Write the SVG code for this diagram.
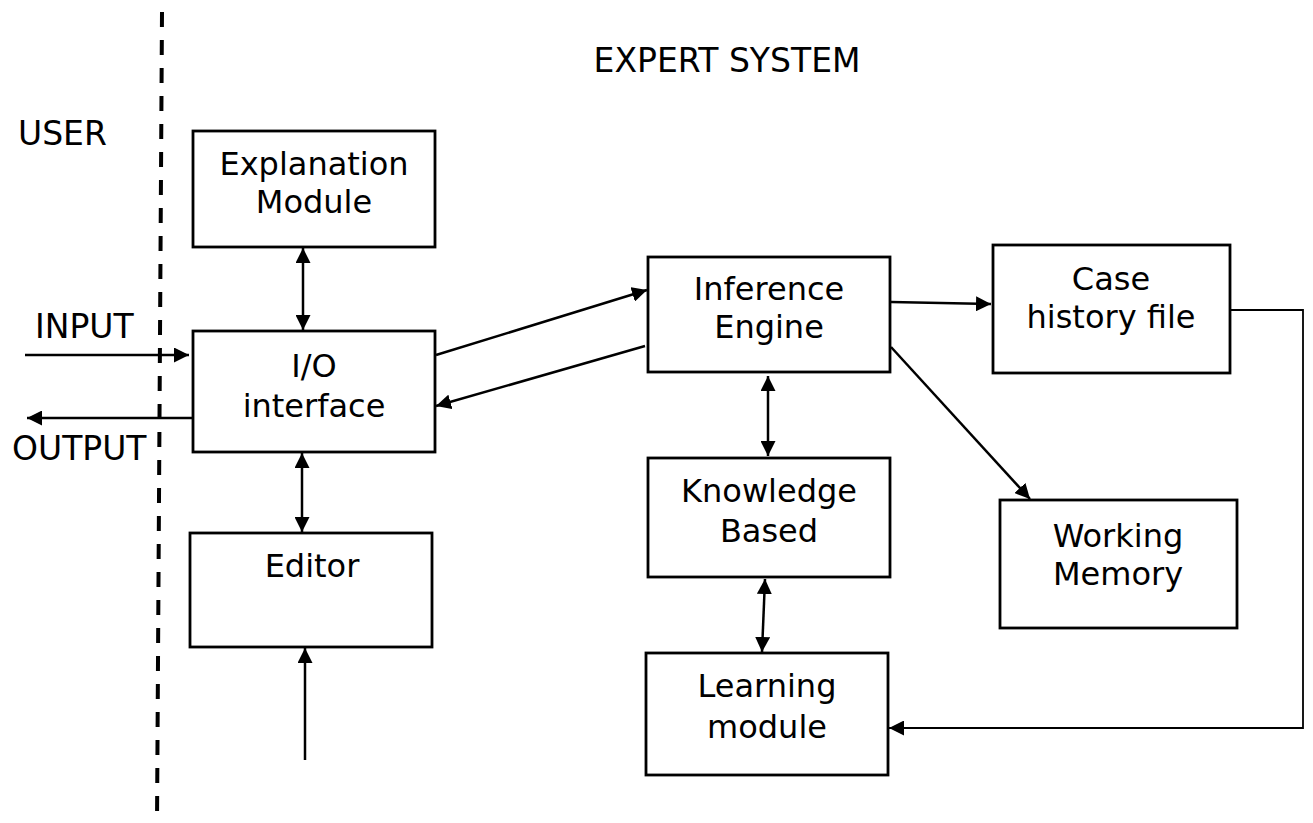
<svg xmlns="http://www.w3.org/2000/svg" width="1313" height="823" viewBox="0 0 1313 823">
<style>
text{font-family:"DejaVu Sans",Verdana,sans-serif;font-size:32px;fill:#000}
.c{text-anchor:middle}
.lbl{font-size:33px}
.box{fill:#fff;stroke:#000;stroke-width:2.8}
.ln{fill:none;stroke:#000;stroke-width:2.5}
.thin{fill:none;stroke:#000;stroke-width:1.8}
.dash{fill:none;stroke:#000;stroke-width:4;stroke-dasharray:15 13}
</style>
<defs>
<marker id="ah" markerUnits="userSpaceOnUse" markerWidth="17" markerHeight="15" refX="15" refY="7.5" orient="auto-start-reverse">
<path d="M0,0 L15,7.5 L0,15 Z" fill="#000"/>
</marker>
</defs>
<rect width="1313" height="823" fill="#fff"/>
<line class="dash" x1="162" y1="12" x2="157" y2="823"/>
<text x="18" y="145" class="lbl">USER</text>
<text x="727" y="72" class="c lbl" font-size="34">EXPERT SYSTEM</text>
<text x="35" y="338" class="lbl">INPUT</text>
<text x="12" y="460" class="lbl">OUTPUT</text>
<g id="explanation">
<rect class="box" x="193" y="131" width="242" height="116"/>
<text x="314" y="175" class="c">Explanation</text>
<text x="314" y="213" class="c">Module</text>
</g>
<g id="io">
<rect class="box" x="193" y="331" width="242" height="121"/>
<text x="314" y="377" class="c">I/O</text>
<text x="314" y="417" class="c">interface</text>
</g>
<g id="editor">
<rect class="box" x="190" y="533" width="242" height="114"/>
<text x="312" y="577" class="c">Editor</text>
</g>
<g id="inference">
<rect class="box" x="648" y="257" width="242" height="115"/>
<text x="769" y="300" class="c">Inference</text>
<text x="769" y="338" class="c">Engine</text>
</g>
<g id="knowledge">
<rect class="box" x="648" y="458" width="242" height="119"/>
<text x="769" y="502" class="c">Knowledge</text>
<text x="769" y="542" class="c">Based</text>
</g>
<g id="learning">
<rect class="box" x="646" y="653" width="242" height="122"/>
<text x="767" y="697" class="c">Learning</text>
<text x="767" y="738" class="c">module</text>
</g>
<g id="case">
<rect class="box" x="993" y="245" width="237" height="128"/>
<text x="1111" y="290" class="c">Case</text>
<text x="1111" y="328" class="c">history file</text>
</g>
<g id="working">
<rect class="box" x="1000" y="500" width="237" height="128"/>
<text x="1118" y="547" class="c">Working</text>
<text x="1118" y="585" class="c">Memory</text>
</g>
<g id="connectors">
<line class="ln" x1="303" y1="248" x2="303" y2="330" marker-start="url(#ah)" marker-end="url(#ah)"/>
<line class="ln" x1="302" y1="453" x2="302" y2="532" marker-start="url(#ah)" marker-end="url(#ah)"/>
<line class="ln" x1="305" y1="760" x2="305" y2="648" marker-end="url(#ah)"/>
<line class="ln" x1="25" y1="355" x2="189" y2="355" marker-end="url(#ah)"/>
<line class="ln" x1="192" y1="418" x2="27" y2="418" marker-end="url(#ah)"/>
<line class="ln" x1="436" y1="355" x2="647" y2="290" marker-end="url(#ah)"/>
<line class="ln" x1="645" y1="346" x2="436" y2="406" marker-end="url(#ah)"/>
<line class="ln" x1="768" y1="376" x2="768" y2="456" marker-start="url(#ah)" marker-end="url(#ah)"/>
<line class="ln" x1="765" y1="579" x2="762" y2="652" marker-start="url(#ah)" marker-end="url(#ah)"/>
<line class="ln" x1="891" y1="302" x2="991" y2="304" marker-end="url(#ah)"/>
<line class="ln" x1="891" y1="347" x2="1030" y2="499" marker-end="url(#ah)"/>
<polyline class="thin" points="1231,310 1303,310 1303,728 889,728" marker-end="url(#ah)"/>
</g>
</svg>
